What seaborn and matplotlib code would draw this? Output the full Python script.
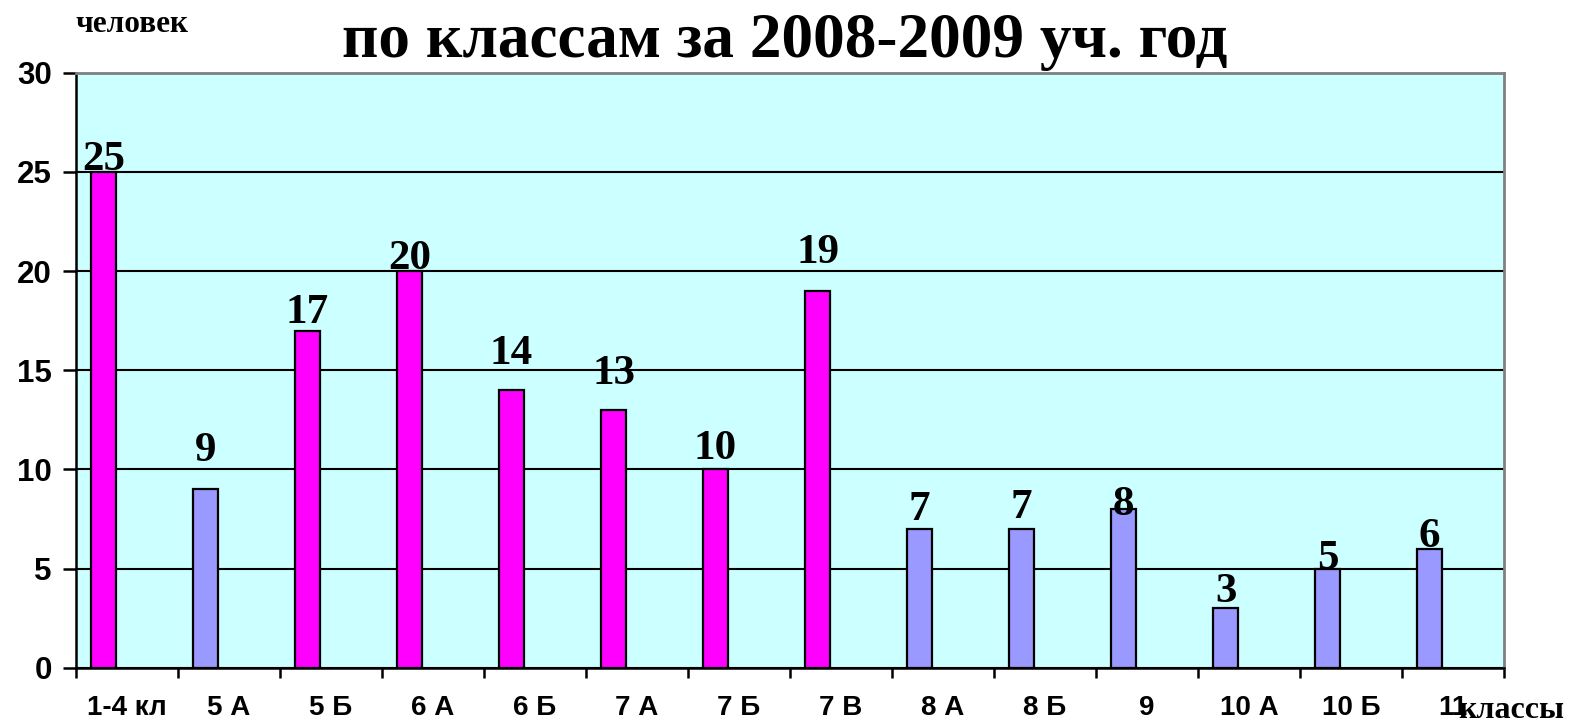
import matplotlib
matplotlib.use('Agg')
import matplotlib.pyplot as plt
import numpy as np
import pandas as pd
import seaborn as sns

# data
classes = ['1-4 кл', '5 А', '5 Б', '6 А', '6 Б', '7 А', '7 Б', '7 В',
           '8 А', '8 Б', '9', '10 А', '10 Б', '11']
pupils = [25, 9, 17, 20, 14, 13, 10, 19, 7, 7, 8, 3, 5, 6]
group = ['m', 'p', 'm', 'm', 'm', 'm', 'm', 'm',
         'p', 'p', 'p', 'p', 'p', 'p']
# how far each value label sits above its bar (in axis units)
label_lift = [0.1, 1.4, 0.4, 0.1, 1.3, 1.3, 0.5, 1.4, 0.45, 0.55, -0.3, 0.33, 0.0, 0.1]

sns.set_style('white')
plt.rcParams['font.family'] = ['Liberation Sans', 'DejaVu Sans']
plt.rcParams['text.color'] = 'black'
plt.rcParams['xtick.color'] = 'black'
plt.rcParams['ytick.color'] = 'black'

df = pd.DataFrame({'klass': classes, 'n': pupils, 'grp': group})
df['pos'] = np.arange(len(df)) - 0.23   # bars sit left of the slot centre

fig = plt.figure(figsize=(15.77, 7.26), dpi=100)
ax = fig.add_axes([0.0482, 0.0803, 0.9055, 0.8196])
ax.set_facecolor('#CCFFFF')

sns.barplot(data=df, x='pos', y='n', hue='grp', native_scale=True, dodge=False,
            palette={'m': '#FF00FF', 'p': '#9999FF'}, width=0.245,
            edgecolor='black', linewidth=1.6, saturation=1, legend=False, ax=ax)

ax.set_xlim(-0.5, len(classes) - 0.5)
ax.set_ylim(0, 30)
ax.set_axisbelow(True)
ax.yaxis.grid(True, color='black', linewidth=1.5)
ax.set_yticks(range(0, 31, 5))

ax.set_xticks(np.arange(len(classes) + 1) - 0.5)
ax.set_xticklabels([])
ax.set_xticks(np.arange(len(classes)), minor=True)
ax.set_xticklabels(classes, minor=True, fontsize=20, fontweight='bold')
ax.tick_params(axis='x', which='major', direction='out', length=7.5, width=1.8, bottom=True)
ax.tick_params(axis='x', which='minor', length=0, pad=20, bottom=True)
ax.tick_params(axis='y', direction='out', length=9.5, width=1.8, pad=8, left=True,
               labelsize=22.5)
for t in ax.get_yticklabels():
    t.set_fontweight('bold')
ax.set_xlabel('')
ax.set_ylabel('')

for side in ['left', 'bottom']:
    ax.spines[side].set_color('black')
    ax.spines[side].set_linewidth(1.8)
for side in ['top', 'right']:
    ax.spines[side].set_color('#808080')
    ax.spines[side].set_linewidth(2)

for x, v, lift in zip(df['pos'], df['n'], label_lift):
    ax.text(x, v + lift, str(v), ha='center', va='baseline', fontsize=31,
            fontweight='bold', family='Liberation Serif')

serif = dict(family='Liberation Serif', fontweight='bold')
fig.text(0.4975, 0.921, 'по классам за 2008-2009 уч. год', ha='center', va='baseline',
         fontsize=45.5, **serif)
fig.text(0.0476, 0.956, 'человек', ha='left', va='baseline', fontsize=22.5, **serif)
fig.text(0.9245, 0.011, 'классы', ha='left', va='baseline', fontsize=23, **serif)

fig.savefig('out.png', dpi=100)
